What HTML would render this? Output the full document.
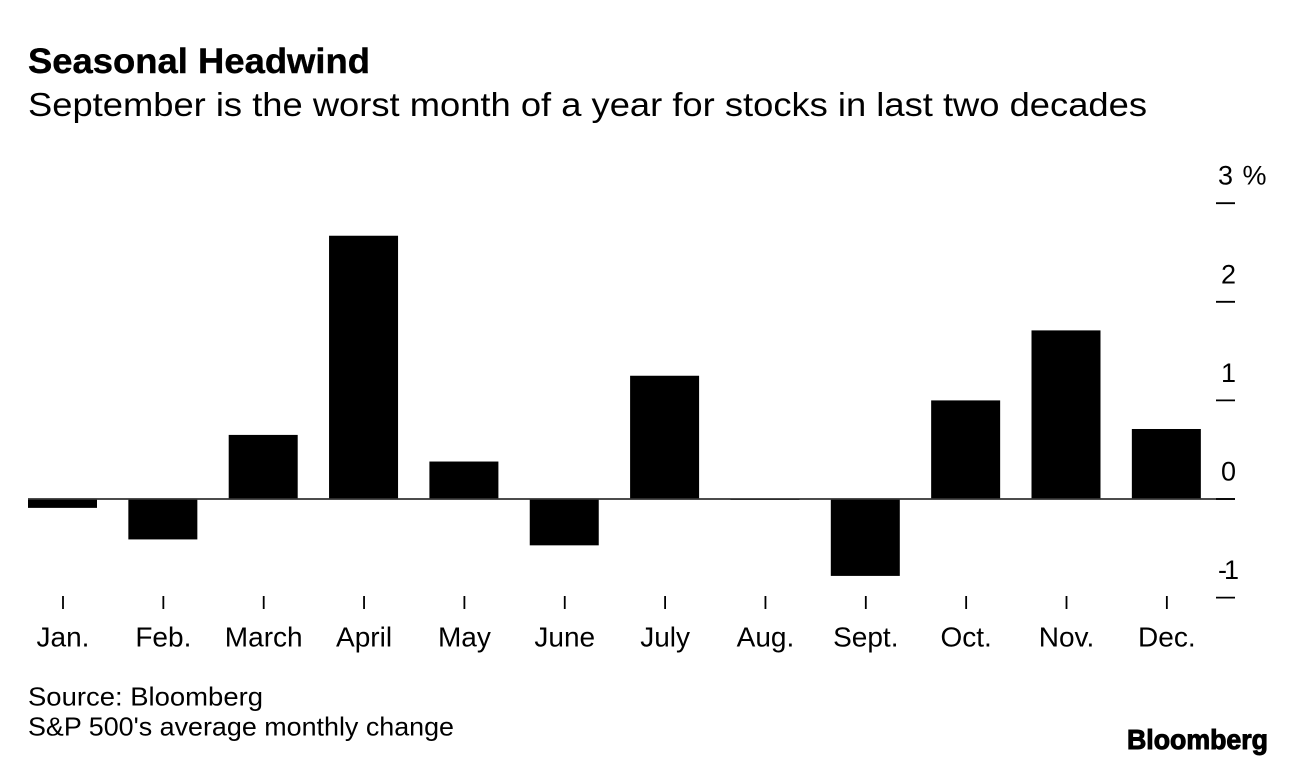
<!DOCTYPE html>
<html lang="en">
<head>
<meta charset="utf-8">
<title>Seasonal Headwind</title>
<style>
  html, body { margin: 0; padding: 0; background: #fff; }
  body { width: 1296px; height: 766px; overflow: hidden; }
  svg { display: block; font-family: "Liberation Sans", Arial, sans-serif; fill: #000; }
</style>
</head>
<body>
<svg id="chart" width="1296" height="766" viewBox="0 0 1296 766" xmlns="http://www.w3.org/2000/svg">
  <rect x="0" y="0" width="1296" height="766" fill="#ffffff"/>
  <text x="28" y="73" font-size="35" font-weight="700" stroke="#000" stroke-width="0.4" textLength="342" lengthAdjust="spacingAndGlyphs">Seasonal Headwind</text>
  <text x="28" y="116" font-size="33" textLength="1119" lengthAdjust="spacingAndGlyphs">September is the worst month of a year for stocks in last two decades</text>
  <g id="bars"></g>
  <g id="x-axis"></g>
  <g id="y-axis"></g>
  <text x="28" y="705.5" font-size="26" textLength="235" lengthAdjust="spacingAndGlyphs">Source: Bloomberg</text>
  <text x="28" y="735.5" font-size="26" textLength="426" lengthAdjust="spacingAndGlyphs">S&amp;P 500's average monthly change</text>
  <text x="1127" y="749" font-size="28" font-weight="700" stroke="#000" stroke-width="1" textLength="141" lengthAdjust="spacingAndGlyphs">Bloomberg</text>
</svg>
<script>
const categories = ["Jan.", "Feb.", "March", "April", "May", "June", "July", "Aug.", "Sept.", "Oct.", "Nov.", "Dec."];
const monthlyChange = [-0.09, -0.41, 0.65, 2.67, 0.38, -0.47, 1.25, -0.01, -0.78, 1.0, 1.71, 0.71];
const yTicks = [3, 2, 1, 0, -1];
const yTickLabels = ["3 %", "2", "1", "0", "-1"];

const NS = "http://www.w3.org/2000/svg";
const plotLeft = 28;
const categoryStep = 100.35;
const barWidth = 69;
const zeroY = 499;
const unitHeight = 98.6;

function xCenter(i) {
  return plotLeft + barWidth / 2 + i * categoryStep;
}
function yPos(v) {
  return zeroY - v * unitHeight;
}
function make(tag, attrs, parent) {
  const el = document.createElementNS(NS, tag);
  for (const k in attrs) el.setAttribute(k, attrs[k]);
  parent.appendChild(el);
  return el;
}

const barsG = document.getElementById("bars");
const xG = document.getElementById("x-axis");
const yG = document.getElementById("y-axis");

monthlyChange.forEach(function (v, i) {
  const top = Math.min(yPos(v), zeroY);
  const h = Math.abs(yPos(v) - zeroY);
  const bar = make("rect", { x: xCenter(i) - barWidth / 2, y: top, width: barWidth, height: h, fill: "#000" }, barsG);
  
  
});

const baseline = make("line", { x1: plotLeft, x2: 1235, y1: yPos(0), y2: yPos(0), stroke: "#333", "stroke-width": 1.8 }, barsG);



categories.forEach(function (c, i) {
  const tick = make("line", { x1: xCenter(i) + 0.5, x2: xCenter(i) + 0.5, y1: 596, y2: 609, stroke: "#000", "stroke-width": 1.8 }, xG);
  
  
  const label = make("text", { x: xCenter(i) + 0.5, y: 646.5, "font-size": 28, "text-anchor": "middle" }, xG);
  
  
  label.textContent = c;
});

yTicks.forEach(function (t, i) {
  const tick = make("line", { x1: 1216, x2: 1235, y1: yPos(t), y2: yPos(t), stroke: "#000", "stroke-width": 1.8 }, yG);
  
  
  const attrs = { x: t === 3 ? 1218 : 1236, y: yPos(t) - 18.5, "font-size": 27, "text-anchor": t === 3 ? "start" : "end" };
  if (t === 3) attrs["letter-spacing"] = 1;
  if (t < 0) attrs["letter-spacing"] = -3;
  const label = make("text", attrs, yG);
  
  
  label.textContent = yTickLabels[i];
});
</script>
</body>
</html>
